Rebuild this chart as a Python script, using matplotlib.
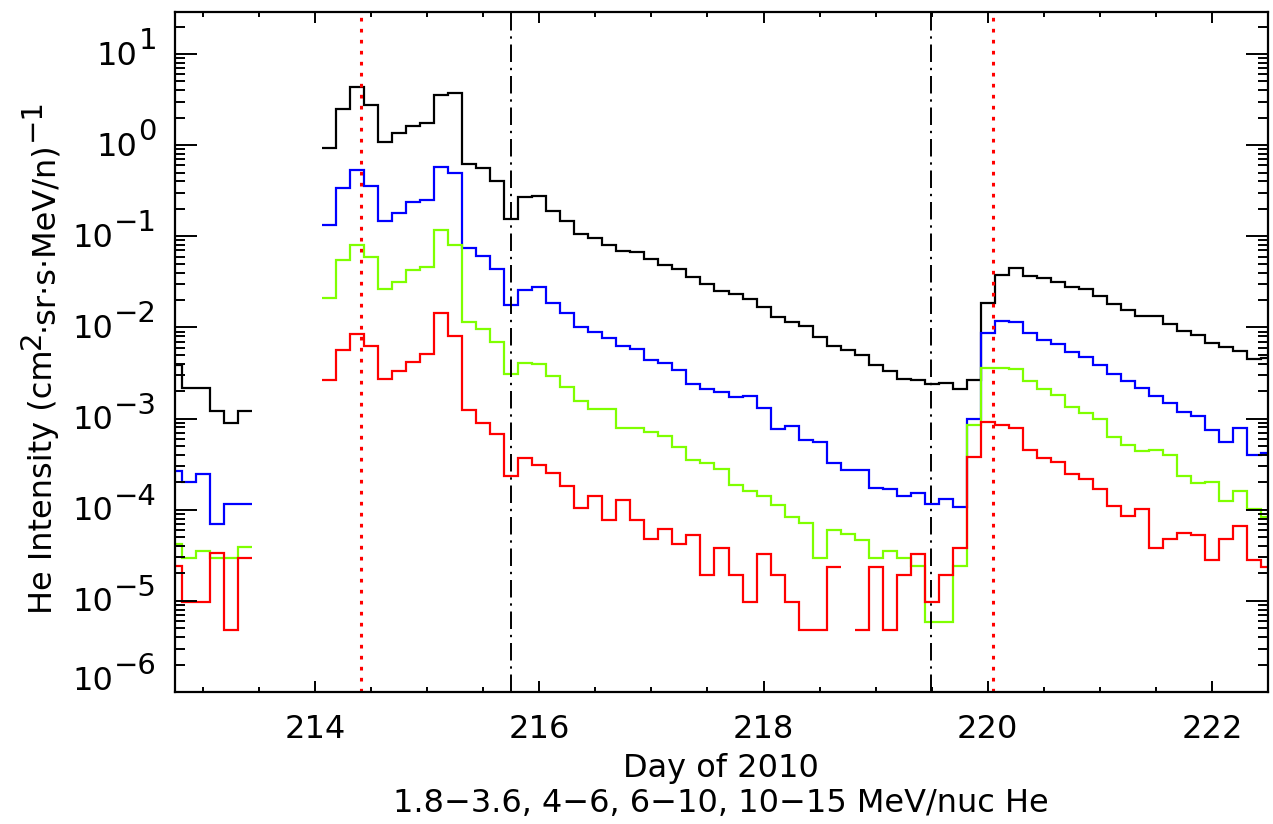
import numpy as np
import matplotlib
matplotlib.use("Agg")
import matplotlib.pyplot as plt
from matplotlib.transforms import IdentityTransform
from matplotlib.ticker import FixedLocator, LogLocator, NullFormatter, MultipleLocator

nan = np.nan
# 3-hour bins (0.125 day); first bin starts at day 212.6875
bin_start = 212.6875
bin_width = 0.125

black = [0.00385, 0.00214, 0.00214, 0.00122, 0.0009, 0.00122, nan, nan, nan, nan, nan,
         0.94, 2.5, 4.3, 2.75, 1.09, 1.35, 1.62, 1.76, 3.55, 3.7,
         0.615, 0.565, 0.40, 0.155, 0.267, 0.276, 0.189, 0.148, 0.106, 0.095,
         0.080, 0.069, 0.0665, 0.0557, 0.0483, 0.0433, 0.036, 0.0297, 0.0252, 0.0232,
         0.0205, 0.0169, 0.0131, 0.0114, 0.0103, 0.0078, 0.00628, 0.00564, 0.00497, 0.00386,
         0.00334, 0.00275, 0.00264, 0.00239, 0.00243, 0.00209, 0.00264, 0.0186, 0.0375, 0.0444,
         0.0366, 0.0345, 0.0312, 0.0275, 0.0261, 0.0221, 0.0183, 0.0157, 0.0133, 0.0133,
         0.0109, 0.0092, 0.0082, 0.0068, 0.0061, 0.0055, 0.0045, 0.0046]

blue = [0.000265, 0.000202, 0.000249, 7.05e-5, 0.000117, 0.000117, nan, nan, nan, nan, nan,
        0.132, 0.34, 0.53, 0.36, 0.148, 0.178, 0.24, 0.248, 0.58, 0.49,
        0.0736, 0.0607, 0.0433, 0.0176, 0.0257, 0.0275, 0.0186, 0.0145, 0.0102, 0.0089,
        0.0076, 0.0062, 0.0058, 0.00437, 0.00412, 0.0034, 0.00239, 0.00209, 0.00196, 0.00173,
        0.00176, 0.00132, 0.000766, 0.00083, 0.00058, 0.000556, 0.000322, 0.000272, 0.000272, 0.000175,
        0.000167, 0.000142, 0.000154, 0.000117, 0.00013, 0.000106, 0.001, 0.0087, 0.0118, 0.0115,
        0.0086, 0.00726, 0.0065, 0.0054, 0.00469, 0.00386, 0.00307, 0.0026, 0.00214, 0.00176,
        0.0015, 0.00119, 0.00106, 0.000746, 0.000556, 0.000798, 0.000396, 0.00042]

green = [4.17e-5, 2.98e-5, 3.52e-5, 2.98e-5, 2.98e-5, 3.92e-5, nan, nan, nan, nan, nan,
         0.0211, 0.0548, 0.080, 0.0596, 0.0261, 0.0312, 0.0426, 0.0455, 0.117, 0.080,
         0.0115, 0.0096, 0.0070, 0.00305, 0.0041, 0.0040, 0.0029, 0.00224, 0.00155, 0.00127,
         0.00127, 0.000798, 0.00078, 0.000715, 0.000646, 0.00049, 0.000349, 0.000327, 0.000283, 0.000186,
         0.000161, 0.000142, 0.000112, 8.3e-5, 7.2e-5, 2.98e-5, 5.95e-5, 5.4e-5, 4.7e-5, 2.98e-5,
         3.53e-5, 2.98e-5, 2.4e-5, 5.9e-6, 5.9e-6, 2.4e-5, 0.00085, 0.0036, 0.0036, 0.00347,
         0.00258, 0.00209, 0.00181, 0.00135, 0.00114, 0.00099, 0.00063, 0.00051, 0.00044, 0.00045,
         0.0004, 0.000233, 0.000194, 0.000202, 0.000124, 0.00016, 0.000103, 8.3e-5]

red = [2.42e-5, 9.6e-6, 9.6e-6, 3.36e-5, 4.8e-6, 2.97e-5, nan, nan, nan, nan, nan,
       0.00264, 0.0056, 0.0085, 0.0062, 0.00275, 0.00334, 0.0042, 0.0051, 0.0143, 0.0080,
       0.00124, 0.0009, 0.00067, 0.000233, 0.000374, 0.000313, 0.000254, 0.000181, 0.000105, 0.000141,
       7.7e-5, 0.000129, 7.8e-5, 4.8e-5, 6.2e-5, 4.25e-5, 5.25e-5, 1.91e-5, 3.84e-5, 1.91e-5,
       9.6e-6, 3.3e-5, 1.91e-5, 9.6e-6, 4.75e-6, 4.75e-6, 2.36e-5, nan, 4.75e-6, 2.36e-5,
       4.75e-6, 1.91e-5, 3.3e-5, 9.6e-6, 1.91e-5, 3.84e-5, 0.00038, 0.00092, 0.00086, 0.00078,
       0.00045, 0.000365, 0.00033, 0.000245, 0.000216, 0.000167, 0.000109, 8.5e-5, 0.000103, 3.84e-5,
       4.8e-5, 5.6e-5, 5.25e-5, 2.84e-5, 4.8e-5, 6.6e-5, 2.8e-5, 2.36e-5]

series = [black, blue, green, red]
colors = ["black", "#0000ff", "#7fff00", "#ff0000"]

shock_days = [215.75, 219.49]      # dash-dot black lines
event_days = [214.41, 220.05]      # dotted red lines

x_ticks = [214, 216, 218, 220, 222]
decades = [-6, -5, -4, -3, -2, -1, 0, 1]

xlabel = "Day of 2010"
subtitle = "1.8\u22123.6, 4\u22126, 6\u221210, 10\u221215 MeV/nuc He"

W, H = 1273, 824
fig = plt.figure(figsize=(W / 100, H / 100), dpi=100)
L, R, T, B = 175, 1268, 12, 692
ax = fig.add_axes([L / W, (H - B) / H, (R - L) / W, (B - T) / H])
ax.set_yscale("log")
ax.set_xlim(212.75, 222.5)
ax.set_ylim(1e-6, 28.9)

n = len(black)
edges = bin_start + bin_width * np.arange(n + 1)


def draw_steps(vals, color):
    vals = np.asarray(vals, float)
    ok = ~np.isnan(vals)
    i = 0
    while i < len(vals):
        if ok[i]:
            j = i
            while j < len(vals) and ok[j]:
                j += 1
            ax.stairs(vals[i:j], edges[i:j + 1], color=color, lw=1.6, baseline=None)
            i = j
        else:
            i += 1


for vals, c in zip(series, colors):
    draw_steps(vals, c)

for d in shock_days:
    ax.axvline(d, color="black", lw=1.4, ls=(0, (9, 3, 1.2, 3)))
for d in event_days:
    ax.axvline(d, color="red", lw=2.2, ls=(0, (1.2, 2.4)))

for s in ax.spines.values():
    s.set_linewidth(1.6)

ax.xaxis.set_major_locator(FixedLocator(x_ticks))
ax.xaxis.set_minor_locator(MultipleLocator(0.5))
ax.yaxis.set_major_locator(LogLocator(base=10, numticks=20))
ax.yaxis.set_minor_locator(LogLocator(base=10, subs=np.arange(2, 10), numticks=20))
ax.yaxis.set_major_formatter(NullFormatter())
ax.yaxis.set_minor_formatter(NullFormatter())
ax.tick_params(axis="both", which="both", direction="in", top=True, right=True, width=1.4)
ax.tick_params(axis="x", which="major", length=8, labelsize=23, pad=16)
ax.tick_params(axis="x", which="minor", length=3.8)
ax.tick_params(axis="y", which="major", length=15.5)
ax.tick_params(axis="y", which="minor", length=7)

# y tick labels built as "10" + raised exponent
fig.canvas.draw()
rend = fig.canvas.get_renderer()
ident = IdentityTransform()
for e in decades:
    ypix = ax.transData.transform((213.0, 10.0 ** e))[1]
    if e == -6:
        ypix += 13
    exp_s = str(e).replace("-", "\u2212")
    te = fig.text(157, ypix + 5, exp_s, transform=ident, ha="right", va="baseline", fontsize=21)
    bb = te.get_window_extent(rend)
    fig.text(bb.x0 - 1, ypix - 2, "10", transform=ident, ha="right", va="center", fontsize=23)

# rotated y-axis label with full-size superscripts
pieces = [("He Intensity (cm", 0, 23), ("2", 12, 21),
          ("\u00b7sr\u00b7s\u00b7MeV/n)", 0, 23), ("\u22121", 12, 21)]
objs = []
total = 0
for s, rz, fs in pieces:
    t = fig.text(0, 0, s, transform=ident, rotation=90, rotation_mode="anchor",
                 ha="left", va="baseline", fontsize=fs)
    ln = t.get_window_extent(rend).height
    objs.append((t, rz, ln))
    total += ln
center_y = H - 356
ycur = center_y - total / 2
base_x = 52
for t, rz, ln in objs:
    t.set_position((base_x - rz, ycur))
    ycur += ln

fig.text(721, H - 769, xlabel, transform=ident, ha="center", va="center", fontsize=23)
fig.text(721, H - 804, subtitle, transform=ident, ha="center", va="center", fontsize=23)

fig.savefig("out.png", dpi=100)
